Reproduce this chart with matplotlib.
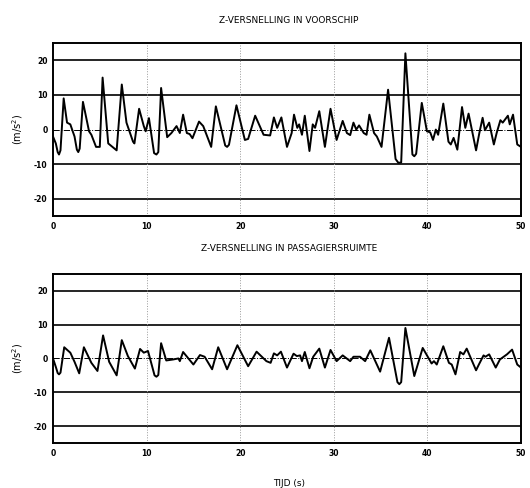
import numpy as np
import matplotlib.pyplot as plt

# ---------------------------------------------------------------------------
# data (turning points of both records)
# ---------------------------------------------------------------------------

t_voor = [0.0, 0.3, 0.5, 0.64, 0.8, 1.14, 1.5, 1.85, 2.3, 2.55, 2.7, 2.85, 3.2,
          3.85, 4.1, 4.6, 5.0, 5.3, 5.9, 6.35, 6.8, 7.35, 7.85, 8.55, 8.7, 9.2,
          9.7, 9.9, 10.25, 10.8, 11.05, 11.25, 11.55, 12.2, 12.65, 13.2, 13.55,
          13.9, 14.3, 14.6, 14.9, 15.6, 16.05, 16.9, 17.4, 18.4, 18.6, 18.8,
          19.6, 20.5, 20.85, 21.6, 22.5, 23.2, 23.6, 23.95, 24.4, 25.0, 25.5,
          25.75, 26.1, 26.3, 26.6, 26.9, 27.4, 27.75, 28.0, 28.45, 29.05, 29.65,
          30.3, 30.95, 31.4, 31.75, 32.1, 32.4, 32.7, 33.2, 33.5, 33.8, 34.3,
          34.6, 35.1, 35.8, 36.6, 36.9, 37.2, 37.65, 38.4, 38.6, 38.8, 39.4,
          39.95, 40.3, 40.6, 40.9, 41.15, 41.7, 42.25, 42.5, 42.8, 43.2, 43.7,
          44.05, 44.4, 45.2, 45.55, 45.9, 46.15, 46.6, 47.1, 47.4, 47.8, 48.05,
          48.6, 48.8, 49.15, 49.6, 50.0]
a_voor = [-2.0, -4.0, -6.5, -7.2, -6.0, 9.0, 2.0, 1.5, -2.0, -5.8, -6.5, -5.5, 8.0,
          -0.5, -1.5, -5.0, -5.0, 15.0, -4.0, -5.0, -6.0, 13.0, 2.0, -3.5, -4.0, 6.0,
          1.0, -0.5, 3.3, -6.8, -7.2, -6.5, 12.0, -2.2, -1.0, 1.0, -1.0,
          4.3, -1.0, -1.3, -2.5, 2.3, 1.0, -5.0, 6.7, -4.6, -5.0, -4.4,
          7.0, -3.0, -2.7, 4.0, -1.5, -1.7, 3.5, 0.5, 3.5, -5.0, -1.0,
          4.3, 0.5, 1.5, -1.5, 4.0, -6.2, 1.5, 0.5, 5.3, -5.0, 6.0,
          -3.0, 2.5, -1.0, -1.6, 2.0, 0.0, 1.2, -1.0, -1.5, 4.3, -1.0,
          -2.0, -5.0, 11.5, -8.5, -9.6, -9.5, 22.0, -7.2, -7.7, -7.0, 7.7,
          -0.5, -0.8, -3.0, 0.0, -1.5, 7.5, -3.5, -4.3, -2.4, -5.8, 6.5,
          0.5, 4.6, -6.0, -1.0, 3.4, -0.2, 2.0, -4.3, -1.0, 2.7, 2.0,
          4.0, 1.5, 4.3, -4.3, -5.0]

t_pass = [0.0, 0.3, 0.5, 0.64, 0.8, 1.2, 1.6, 1.85, 2.3, 2.8, 3.3, 4.1, 4.75,
          5.35, 6.0, 6.4, 6.8, 7.35, 8.0, 8.75, 9.3, 9.7, 10.15, 10.85, 11.05,
          11.25, 11.55, 12.1, 12.85, 13.4, 13.55, 13.9, 15.0, 15.7, 16.2, 17.0,
          17.65, 18.6, 19.7, 20.85, 21.75, 22.8, 23.25, 23.6, 23.95, 24.35, 25.0,
          25.7, 26.05, 26.4, 26.6, 26.9, 27.4, 27.8, 28.45, 29.05, 29.65, 30.3,
          30.95, 31.75, 32.1, 32.8, 33.35, 33.9, 34.95, 35.9, 36.8, 37.0, 37.2,
          37.65, 38.6, 39.5, 40.1, 40.45, 40.7, 41.0, 41.7, 42.3, 42.6, 43.0,
          43.5, 43.85, 44.2, 45.2, 45.5, 46.0, 46.2, 46.6, 47.3, 47.75, 48.5,
          49.05, 49.6, 50.0]
a_pass = [0.0, -2.5, -4.3, -4.7, -4.2, 3.3, 2.3, 1.7, -1.0, -4.4, 3.3, -1.3, -3.7,
          6.8, -1.0, -3.0, -5.0, 5.4, 0.7, -3.0, 2.8, 1.7, 2.2, -5.0, -5.4,
          -4.9, 4.5, -0.6, -0.3, 0.0, -0.8, 1.9, -1.8, 1.0, 0.5, -3.2,
          3.3, -3.2, 3.9, -2.3, 2.0, -0.8, -1.3, 1.5, 0.9, 2.0, -2.7,
          1.4, 0.7, 0.9, -0.8, 1.9, -2.9, 0.5, 2.9, -2.7, 2.5, -0.8,
          0.9, -0.8, 0.5, 0.5, -0.8, 2.4, -3.9, 6.1, -7.0, -7.6, -7.0,
          9.0, -5.2, 3.1, 0.2, -1.5, -0.8, -1.8, 3.6, -1.3, -1.8, -4.7,
          1.9, 1.2, 2.9, -3.5, -1.8, 0.9, 0.5, 1.2, -2.7, -0.3, 1.2,
          2.6, -1.8, -2.7]

titles = ['Z-VERSNELLING IN VOORSCHIP', 'Z-VERSNELLING IN PASSAGIERSRUIMTE']
xticks = [0, 10, 20, 30, 40, 50]
yticks = [-20, -10, 0, 10, 20]

# ---------------------------------------------------------------------------
# figure
# ---------------------------------------------------------------------------

fig = plt.figure(figsize=(5.3, 4.88), dpi=100)
ax1 = fig.add_axes([0.100, 0.557, 0.883, 0.355])
ax2 = fig.add_axes([0.100, 0.092, 0.883, 0.347])

for ax, t, a in [(ax1, t_voor, a_voor), (ax2, t_pass, a_pass)]:
    # grid: solid at +-10, +-20, dash-dot at zero, faint dotted verticals
    for y in [-20, -10, 10, 20]:
        ax.axhline(y, color='black', lw=1.2, zorder=1)
    ax.axhline(0, color='black', lw=0.7, ls='-.', zorder=1)
    for x in [10, 20, 30, 40]:
        ax.axvline(x, color='#999999', lw=0.7, ls=':', zorder=1)

    ax.plot(t, a, color='black', lw=1.4, solid_joinstyle='round', zorder=3)

    ax.set_xlim(0, 50)
    ax.set_ylim(-25, 25)
    ax.set_xticks(xticks)
    ax.set_yticks(yticks)
    ax.set_xticklabels([str(v) for v in xticks], fontsize=5.5, fontweight='bold')
    ax.set_yticklabels([str(v) for v in yticks], fontsize=5.5, fontweight='bold')
    ax.tick_params(length=0, pad=4)
    for s in ax.spines.values():
        s.set_linewidth(1.4)
    ax.set_ylabel('(m/s$^2$)', fontsize=7, labelpad=6)

fig.text(0.545, 0.958, titles[0], ha='center', va='center', fontsize=6.5)
fig.text(0.545, 0.491, titles[1], ha='center', va='center', fontsize=6.5)
fig.text(0.545, 0.010, 'TIJD (s)', ha='center', va='center', fontsize=6.5)

plt.savefig('out.png', dpi=100)
